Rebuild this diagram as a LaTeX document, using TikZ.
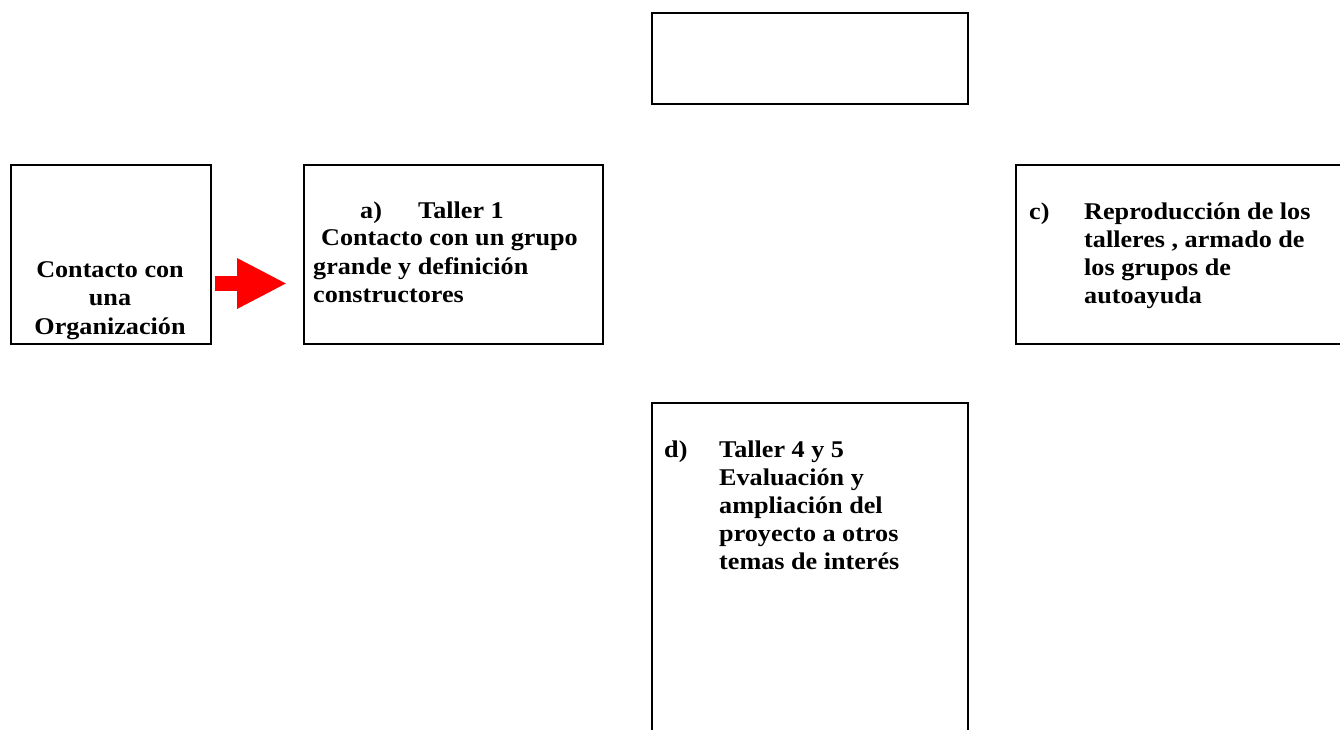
\documentclass[tikz,border=0pt]{standalone}
\usepackage{fontspec}
\setmainfont{Liberation Serif}[FakeStretch=1.09]
\usetikzlibrary{arrows.meta,calc}
\begin{document}
\begin{tikzpicture}[x=1pt,y=-1pt,
  box/.style={draw=black,line width=2pt,rectangle,anchor=north west,inner sep=0pt},
  txt/.style={anchor=base west,inner sep=0pt,font=\fontsize{24}{28}\selectfont\bfseries},
  ctxt/.style={anchor=base,inner sep=0pt,font=\fontsize{24}{28.5}\selectfont\bfseries}]
\useasboundingbox (0,0) rectangle (1340,730);
\clip (0,0) rectangle (1340,730);
% boxes
\node[box,minimum width=316pt,minimum height=91pt] (top) at (651,12) {};
\node[box,minimum width=200pt,minimum height=179pt] (org) at (10,164) {};
\node[box,minimum width=299pt,minimum height=179pt] (ta) at (303,164) {};
\node[box,minimum width=340pt,minimum height=179pt] (tc) at (1015,164) {};
\node[box,minimum width=316pt,minimum height=345pt] (td) at (651,402) {};
% texts
\node[ctxt] (orgtext) at (110,277) {\begin{tabular}[t]{@{}c@{}}Contacto con\\una\\Organización\end{tabular}};
\node[txt] (tatext) at (313,218) {\begin{tabular}[t]{@{}l@{}}\hspace*{47pt}\makebox[58pt][l]{a)}Taller 1\\\hspace*{8pt}Contacto con un grupo\\grande y definición\\constructores\end{tabular}};
\node[txt] (tctext) at (1029,219) {\begin{tabular}[t]{@{}p{55pt}@{}l@{}}c) & Reproducción de los\\ & talleres , armado de\\ & los grupos de\\ & autoayuda\end{tabular}};
\node[txt] (tdtext) at (664,457) {\begin{tabular}[t]{@{}p{55pt}@{}l@{}}d) & Taller 4 y 5\\ & Evaluación y\\ & ampliación del\\ & proyecto a otros\\ & temas de interés\end{tabular}};
% red arrow
\draw[red,line width=15pt,-{Triangle[length=50pt,width=47pt]}] ($(org.east)+(3,29)$) -- ($(ta.west)+(-16,29)$);
\end{tikzpicture}
\end{document}
